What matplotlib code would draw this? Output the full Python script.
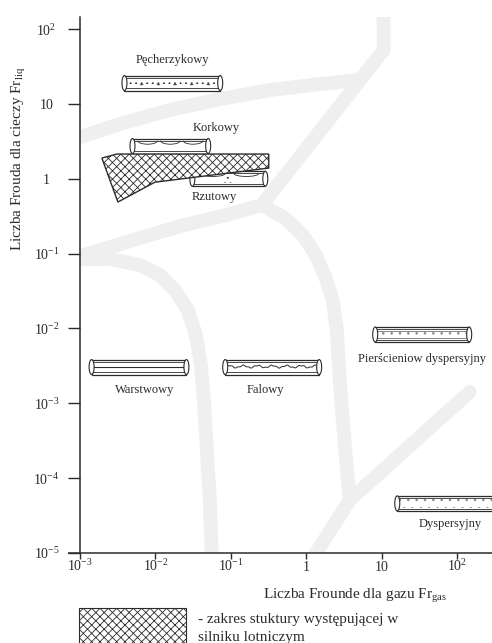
import numpy as np
import matplotlib.pyplot as plt
from matplotlib.patches import Polygon, Rectangle, Ellipse, Arc
from matplotlib.lines import Line2D
from matplotlib.transforms import IdentityTransform

plt.rcParams["font.family"] = ["Liberation Serif", "DejaVu Serif"]
plt.rcParams["mathtext.fontset"] = "custom"
plt.rcParams["mathtext.rm"] = "Liberation Serif"
plt.rcParams["mathtext.it"] = "Liberation Serif:italic"
plt.rcParams["hatch.linewidth"] = 0.6

INK = "#2b2b2b"
BAND = "#efefef"

# flow regimes: pipe span along Fr_gas and its Fr_liq level
REGIMES = ["Pęcherzykowy", "Korkowy", "Rzutowy", "Warstwowy", "Falowy",
           "Pierścieniow dyspersyjny", "Dyspersyjny"]
REGIME_KIND = ["bubbly", "slug", "plug", "stratified", "wavy", "annular", "mist"]
GAS_FROM = [0.0036, 0.0046, 0.0286, 0.00132, 0.078, 7.6, 14.9]
GAS_TO = [0.078, 0.054, 0.309, 0.0278, 1.6, 156, 700]
LIQ_AT = [19.0, 2.74, 1.0, 0.00305, 0.00305, 0.0083, 4.6e-5]
# label offset from the pipe centre, pixels
LABEL_SHIFT = [(0, 23), (46, 18), (-15, -18), (6, -23), (-7, -23), (0, -24), (-8, -21)]

# transition bands between regimes (Fr_gas, Fr_liq)
BUBBLE_GAS = [0.001, 0.0034, 0.0156, 0.0714, 0.33, 1.51, 4.8]
BUBBLE_LIQ = [3.6, 5.4, 8.3, 11.6, 15.3, 18.4, 20.8]
SLUG_GAS = [10.6, 10.6, 0.258]
SLUG_LIQ = [150, 52.5, 0.446]
WAVE_GAS = [0.258, 0.519, 0.90, 1.34, 1.81, 2.24, 2.54, 2.78, 3.04, 3.44, 3.77]
WAVE_LIQ = [0.446, 0.299, 0.177, 0.0957, 0.0472, 0.024, 0.00953, 0.00205,
            0.000598, 0.000141, 5.1e-5]
DISP_LOW_GAS = [3.77, 1.26]
DISP_LOW_LIQ = [5.1e-5, 9e-6]
DISP_UP_GAS = [3.77, 147]
DISP_UP_LIQ = [5.1e-5, 0.00142]
PLUG_GAS = [0.001, 0.0046, 0.0211, 0.0971, 0.258]
PLUG_LIQ = [0.093, 0.147, 0.233, 0.338, 0.446]
STRAT_GAS = [0.001, 0.00249, 0.00624, 0.01148, 0.0181, 0.0269, 0.0344, 0.0401,
             0.0439, 0.0481, 0.0527, 0.056]
STRAT_LIQ = [0.0847, 0.0847, 0.0703, 0.0518, 0.0326, 0.0176, 0.00817, 0.00325,
             0.00111, 0.000238, 5.1e-5, 8.1e-6]

# operating range in the aircraft engine
ENGINE_GAS = [0.00195, 0.00309, 0.318, 0.318, 0.00984, 0.00318]
ENGINE_LIQ = [1.89, 2.14, 2.14, 1.39, 0.90, 0.489]

X_TICKS = [1e-3, 1e-2, 1e-1, 1, 10, 100]
X_TICK_LABELS = ["10$^{-3}$", "10$^{-2}$", "10$^{-1}$", "1", "10", "10$^{2}$"]
Y_TICKS = [1e-5, 1e-4, 1e-3, 1e-2, 1e-1, 1, 10, 100]
Y_TICK_LABELS = ["10$^{-5}$", "10$^{-4}$", "10$^{-3}$", "10$^{-2}$", "10$^{-1}$",
                 "1", "10", "10$^{2}$"]


def draw_pipe(ax, x0, x1, y, kind, h=15.0):
    # pipe sketch drawn in pixel space so it keeps its shape on log axes
    (l, yc), (r, _) = ax.transData.transform([(x0, y), (x1, y)])
    pix = IdentityTransform()
    top, bot = yc + h / 2, yc - h / 2
    a, b = l + 2.5, r - 2.5
    L = b - a

    def add(p, z):
        p.set_transform(pix)
        p.set_zorder(z)
        ax.add_patch(p)

    def line(xs, ys, lw=0.6, z=3.1):
        ax.add_line(Line2D(xs, ys, transform=pix, color=INK, lw=lw, zorder=z))

    add(Rectangle((a, bot), L, h, fc="white", ec=INK, lw=0.9), 3)
    line([a, b], [top - 2.2, top - 2.2])
    line([a, b], [bot + 2.2, bot + 2.2])

    if kind == "bubbly":
        add(Rectangle((a + 2, yc - 1), L - 4, top - 3 - (yc - 1), fc="none",
                      ec="#333333", lw=0, hatch="..."), 3.05)
        add(Rectangle((a + 2, bot + 3), L - 4, yc - 1 - (bot + 3), fc="none",
                      ec="#555555", lw=0, hatch="."), 3.05)
    elif kind == "slug":
        for f in (0.2, 0.5, 0.8):
            add(Arc((a + f * L, top - 2.2), 0.26 * L, 7, theta1=180, theta2=360,
                    ec=INK, lw=0.6), 3.05)
    elif kind == "plug":
        for f in (0.28, 0.74):
            add(Arc((a + f * L, top - 2.2), 0.34 * L, 6, theta1=180, theta2=360,
                    ec=INK, lw=0.6), 3.05)
        add(Rectangle((a + 0.44 * L, bot + 3), 0.1 * L, h - 6, fc="none",
                      ec="#333333", lw=0, hatch="..."), 3.05)
    elif kind == "stratified":
        line([a, b], [yc + 0.5, yc + 0.5], lw=0.8)
    elif kind == "wavy":
        xs = np.linspace(a + 1, b - 1, 160)
        ys = yc + 0.5 + 1.1 * np.sin((xs - a) / L * 2 * np.pi * 6.5) \
            + 0.5 * np.sin((xs - a) / L * 2 * np.pi * 17)
        line(xs, ys, lw=0.7)
    elif kind == "annular":
        line([a, b], [top - 3.6, top - 3.6], lw=0.4)
        line([a, b], [bot + 3.6, bot + 3.6], lw=0.4)
        add(Rectangle((a + 2, bot + 4), L - 4, h - 8, fc="none",
                      ec="#8a8a8a", lw=0, hatch=".."), 3.05)
    elif kind == "mist":
        add(Rectangle((a + 2, bot + 3), L - 4, h - 6, fc="none",
                      ec="#8a8a8a", lw=0, hatch=".."), 3.05)

    for cx in (a, b):
        add(Ellipse((cx, yc), 5, h, fc="white", ec=INK, lw=0.8), 3.2)
    return (l + r) / 2, yc


fig = plt.figure(figsize=(4.92, 6.43), dpi=100)
ax = fig.add_axes([80 / 492, 1 - 553 / 643, 412 / 492, 536 / 643])
ax.set_xscale("log")
ax.set_yscale("log")
ax.set_xlim(1e-3, 290)
ax.set_ylim(1e-5, 145)
ax.set_autoscale_on(False)

for s in ("top", "right"):
    ax.spines[s].set_visible(False)
for s in ("left", "bottom"):
    ax.spines[s].set_color(INK)
    ax.spines[s].set_linewidth(1.1)
ax.plot([-12 / 412, 0], [0, 0], transform=ax.transAxes, color=INK, lw=1.1,
        clip_on=False, solid_capstyle="butt")

ax.minorticks_off()
ax.set_xticks(X_TICKS)
ax.set_xticklabels(X_TICK_LABELS)
ax.set_yticks(Y_TICKS)
ax.set_yticklabels(Y_TICK_LABELS)
ax.tick_params(axis="x", length=4.3, width=1, pad=8.6, labelsize=10, colors=INK)
ax.tick_params(axis="y", length=8.6, width=1, pad=15.5, labelsize=10, colors=INK)
for lbl in ax.get_xticklabels():
    lbl.set_verticalalignment("baseline")
for lbl in ax.get_yticklabels():
    lbl.set_horizontalalignment("center")

# regime boundaries
band_sets = [(BUBBLE_GAS, BUBBLE_LIQ), (SLUG_GAS, SLUG_LIQ), (WAVE_GAS, WAVE_LIQ),
             (DISP_LOW_GAS, DISP_LOW_LIQ), (DISP_UP_GAS, DISP_UP_LIQ),
             (PLUG_GAS, PLUG_LIQ), (STRAT_GAS, STRAT_LIQ)]
for gx, ly in band_sets:
    ax.plot(gx, ly, color=BAND, lw=10, solid_capstyle="round",
            solid_joinstyle="round", zorder=1)

# pipe sketches with their names
for name, kind, g0, g1, liq, (dx, dy) in zip(REGIMES, REGIME_KIND, GAS_FROM, GAS_TO,
                                             LIQ_AT, LABEL_SHIFT):
    cx, cy = draw_pipe(ax, g0, g1, liq, kind)
    ax.annotate(name, xy=(cx, cy), xycoords=IdentityTransform(), xytext=(dx, dy),
                textcoords="offset pixels", ha="center", va="center",
                fontsize=9, color=INK, zorder=5)

ax.add_patch(Polygon(list(zip(ENGINE_GAS, ENGINE_LIQ)), closed=True, fc="white",
                     ec=INK, lw=1.0, hatch="xxxx", zorder=4))

fig.text(19 / 492, 1 - 159 / 643, "Liczba Frouda dla cieczy Fr$_{\\mathrm{liq}}$",
         rotation=90, ha="center", va="center", fontsize=11, color=INK)
fig.text(263 / 492, 1 - 599 / 643, "Liczba Frounde dla gazu Fr$_{\\mathrm{gas}}$",
         ha="left", va="baseline", fontsize=11, color=INK)

# legend for the hatched area
fig.add_artist(Rectangle((79 / 492, -0.02), 107 / 492, 0.02 + 1 - 608 / 643,
                         transform=fig.transFigure, fc="white", ec=INK, lw=0.8,
                         hatch="xxxx"))
fig.text(198 / 492, 1 - 623 / 643, "- zakres stuktury występującej w",
         ha="left", va="baseline", fontsize=11, color=INK)
fig.text(198 / 492, 1 - 641 / 643, "silniku lotniczym",
         ha="left", va="baseline", fontsize=11, color=INK)

fig.savefig("out.png", dpi=100, facecolor="white")
